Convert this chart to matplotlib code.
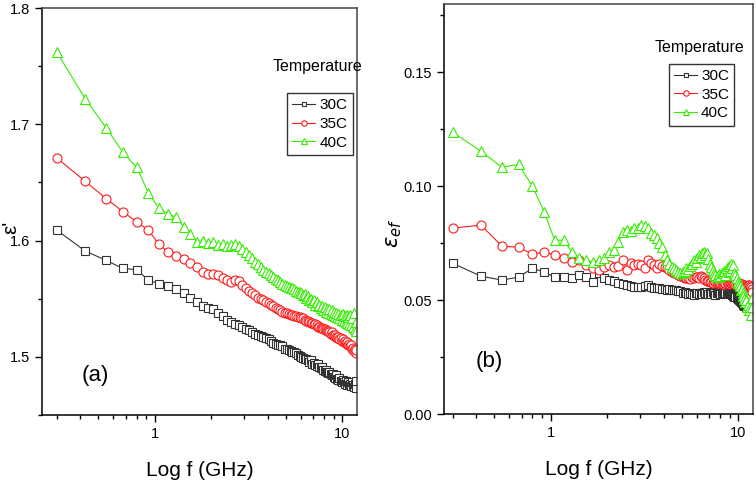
import matplotlib
matplotlib.use('Agg')
import matplotlib.pyplot as plt
from matplotlib.ticker import MultipleLocator, FixedLocator, FixedFormatter, NullFormatter

plt.rcParams['font.family'] = ['Liberation Sans Narrow', 'Liberation Sans', 'DejaVu Sans']

# frequency grid (GHz), 0.125 GHz steps
freq = [0.3, 0.425, 0.55, 0.675, 0.8, 0.925, 1.05, 1.175, 1.3, 1.425,
        1.55, 1.675, 1.8, 1.925, 2.05, 2.175, 2.3, 2.425, 2.55, 2.675,
        2.8, 2.925, 3.05, 3.175, 3.3, 3.425, 3.55, 3.675, 3.8, 3.925,
        4.05, 4.175, 4.3, 4.425, 4.55, 4.675, 4.8, 4.925, 5.05, 5.175,
        5.3, 5.425, 5.55, 5.675, 5.8, 5.925, 6.05, 6.175, 6.3, 6.425,
        6.55, 6.675, 6.8, 6.925, 7.05, 7.175, 7.3, 7.425, 7.55, 7.675,
        7.8, 7.925, 8.05, 8.175, 8.3, 8.425, 8.55, 8.675, 8.8, 8.925,
        9.05, 9.175, 9.3, 9.425, 9.55, 9.675, 9.8, 9.925, 10.05, 10.175,
        10.3, 10.425, 10.55, 10.675, 10.8, 10.925, 11.05, 11.175, 11.3, 11.425,
        11.55, 11.675, 11.8, 11.925]

# (a) real permittivity
eps1_30 = [1.609, 1.591, 1.583, 1.576, 1.575, 1.566, 1.563, 1.561, 1.558, 1.555,
           1.551, 1.547, 1.544, 1.542, 1.541, 1.538, 1.535, 1.532, 1.530, 1.528,
           1.527, 1.526, 1.524, 1.523, 1.521, 1.520, 1.519, 1.518, 1.517, 1.516,
           1.515, 1.514, 1.512, 1.511, 1.510, 1.510, 1.509, 1.507, 1.507, 1.506,
           1.505, 1.504, 1.504, 1.503, 1.502, 1.501, 1.500, 1.499, 1.498, 1.498,
           1.497, 1.496, 1.497, 1.494, 1.495, 1.493, 1.492, 1.494, 1.491, 1.490,
           1.491, 1.489, 1.488, 1.489, 1.487, 1.486, 1.487, 1.485, 1.484, 1.485,
           1.483, 1.482, 1.484, 1.481, 1.480, 1.482, 1.479, 1.478, 1.480, 1.478,
           1.477, 1.479, 1.477, 1.476, 1.478, 1.476, 1.477, 1.475, 1.478, 1.476,
           1.474, 1.477, 1.473, 1.479]
eps1_35 = [1.671, 1.651, 1.636, 1.625, 1.616, 1.609, 1.597, 1.590, 1.587, 1.584,
           1.581, 1.577, 1.573, 1.571, 1.571, 1.570, 1.568, 1.566, 1.564, 1.566,
           1.565, 1.562, 1.559, 1.557, 1.555, 1.553, 1.551, 1.550, 1.549, 1.547,
           1.546, 1.545, 1.544, 1.542, 1.541, 1.540, 1.539, 1.538, 1.538, 1.537,
           1.536, 1.536, 1.535, 1.535, 1.534, 1.534, 1.533, 1.533, 1.532, 1.531,
           1.531, 1.530, 1.529, 1.529, 1.528, 1.528, 1.527, 1.526, 1.526, 1.525,
           1.525, 1.524, 1.524, 1.523, 1.522, 1.522, 1.521, 1.520, 1.521, 1.519,
           1.518, 1.519, 1.517, 1.516, 1.517, 1.515, 1.516, 1.514, 1.515, 1.513,
           1.514, 1.512, 1.511, 1.513, 1.510, 1.511, 1.509, 1.510, 1.507, 1.508,
           1.505, 1.507, 1.503, 1.506]
eps1_40 = [1.762, 1.722, 1.697, 1.676, 1.663, 1.641, 1.628, 1.623, 1.620, 1.612,
           1.606, 1.599, 1.600, 1.598, 1.599, 1.596, 1.597, 1.595, 1.596, 1.597,
           1.595, 1.593, 1.590, 1.588, 1.585, 1.582, 1.580, 1.577, 1.575, 1.573,
           1.572, 1.570, 1.569, 1.567, 1.566, 1.564, 1.563, 1.562, 1.561, 1.560,
           1.559, 1.559, 1.558, 1.557, 1.556, 1.556, 1.555, 1.553, 1.554, 1.551,
           1.552, 1.549, 1.550, 1.547, 1.549, 1.545, 1.547, 1.544, 1.545, 1.542,
           1.544, 1.540, 1.543, 1.539, 1.541, 1.538, 1.541, 1.537, 1.540, 1.536,
           1.539, 1.535, 1.538, 1.534, 1.537, 1.533, 1.536, 1.532, 1.537, 1.531,
           1.535, 1.530, 1.536, 1.529, 1.534, 1.528, 1.536, 1.527, 1.533, 1.526,
           1.538, 1.524, 1.530, 1.522]

# (b) effective loss
epsef_30 = [0.0662, 0.0605, 0.0588, 0.0601, 0.0640, 0.0623, 0.0601, 0.0601, 0.0596, 0.0610,
            0.0601, 0.0579, 0.0618, 0.0596, 0.0590, 0.0583, 0.0575, 0.0570, 0.0566, 0.0560,
            0.0557, 0.0557, 0.0557, 0.0562, 0.0566, 0.0557, 0.0553, 0.0555, 0.0553, 0.0550,
            0.0548, 0.0545, 0.0547, 0.0543, 0.0546, 0.0544, 0.0541, 0.0538, 0.0532, 0.0536,
            0.0530, 0.0527, 0.0533, 0.0529, 0.0524, 0.0531, 0.0530, 0.0526, 0.0533, 0.0528,
            0.0535, 0.0531, 0.0535, 0.0527, 0.0532, 0.0529, 0.0534, 0.0530, 0.0524, 0.0531,
            0.0530, 0.0533, 0.0528, 0.0532, 0.0535, 0.0530, 0.0531, 0.0534, 0.0529, 0.0533,
            0.0530, 0.0527, 0.0524, 0.0520, 0.0515, 0.0513, 0.0510, 0.0506, 0.0500, 0.0495,
            0.0490, 0.0487, 0.0482, 0.0478, 0.0475, 0.0472, 0.0469, 0.0471, 0.0475, 0.0480,
            0.0478, 0.0482, 0.0476, 0.0479]
epsef_35 = [0.0816, 0.0829, 0.0737, 0.0732, 0.0702, 0.0711, 0.0697, 0.0684, 0.0667, 0.0675,
            0.0654, 0.0640, 0.0632, 0.0645, 0.0654, 0.0645, 0.0650, 0.0675, 0.0632, 0.0662,
            0.0654, 0.0660, 0.0654, 0.0640, 0.0675, 0.0662, 0.0654, 0.0640, 0.0660, 0.0650,
            0.0645, 0.0640, 0.0632, 0.0625, 0.0620, 0.0618, 0.0612, 0.0605, 0.0600, 0.0596,
            0.0596, 0.0598, 0.0594, 0.0600, 0.0596, 0.0602, 0.0601, 0.0598, 0.0604, 0.0600,
            0.0596, 0.0590, 0.0586, 0.0582, 0.0579, 0.0580, 0.0577, 0.0582, 0.0578, 0.0575,
            0.0579, 0.0574, 0.0577, 0.0575, 0.0572, 0.0576, 0.0573, 0.0578, 0.0575, 0.0572,
            0.0576, 0.0574, 0.0578, 0.0575, 0.0571, 0.0576, 0.0573, 0.0569, 0.0574, 0.0570,
            0.0566, 0.0571, 0.0567, 0.0563, 0.0568, 0.0562, 0.0557, 0.0560, 0.0565, 0.0568,
            0.0563, 0.0558, 0.0550, 0.0535]
epsef_40 = [0.1237, 0.1154, 0.1083, 0.1096, 0.1000, 0.0886, 0.0763, 0.0763, 0.0711, 0.0684,
            0.0675, 0.0667, 0.0675, 0.0684, 0.0711, 0.0719, 0.0754, 0.0798, 0.0807, 0.0805,
            0.0816, 0.0816, 0.0829, 0.0825, 0.0818, 0.0794, 0.0785, 0.0772, 0.0750, 0.0732,
            0.0700, 0.0675, 0.0660, 0.0645, 0.0640, 0.0632, 0.0625, 0.0618, 0.0622, 0.0630,
            0.0640, 0.0635, 0.0650, 0.0660, 0.0675, 0.0668, 0.0685, 0.0697, 0.0690, 0.0705,
            0.0710, 0.0698, 0.0706, 0.0680, 0.0660, 0.0645, 0.0632, 0.0620, 0.0610, 0.0601,
            0.0605, 0.0615, 0.0608, 0.0620, 0.0618, 0.0630, 0.0612, 0.0640, 0.0625, 0.0650,
            0.0630, 0.0660, 0.0640, 0.0654, 0.0620, 0.0610, 0.0596, 0.0580, 0.0570, 0.0560,
            0.0545, 0.0550, 0.0530, 0.0520, 0.0505, 0.0490, 0.0500, 0.0470, 0.0480, 0.0456,
            0.0470, 0.0435, 0.0510, 0.0470]

labels = ['30C', '35C', '40C']
colors = ['#333333', '#ff1a1a', '#33ee00']
markers = ['s', 'o', '^']
msizes = [5.5, 6.5, 7.5]


def style_axes(ax, xmin):
    ax.set_xscale('log')
    ax.set_xlim(xmin, 12)
    ax.xaxis.set_major_locator(FixedLocator([1, 10]))
    ax.xaxis.set_major_formatter(FixedFormatter(['1', '10']))
    ax.xaxis.set_minor_locator(FixedLocator([0.3, 0.4, 0.5, 0.6, 0.7, 0.8, 0.9,
                                             2, 3, 4, 5, 6, 7, 8, 9]))
    ax.xaxis.set_minor_formatter(NullFormatter())
    ax.tick_params(which='major', direction='out', length=5, width=1,
                   labelsize=10.5, top=False, right=False)
    ax.tick_params(which='minor', direction='out', length=3, width=1,
                   top=False, right=False)
    for s in ax.spines.values():
        s.set_linewidth(1.1)
    ax.spines['top'].set_color('#444444')
    ax.spines['right'].set_color('#444444')
    ax.set_xlabel('Log f (GHz)', fontsize=15)


def draw(ax, series):
    for y, lab, c, m, ms in zip(series, labels, colors, markers, msizes):
        ax.plot(freq, y, color=c, marker=m, markersize=ms, markerfacecolor='white',
                markeredgecolor=c, markeredgewidth=0.8, linewidth=0.8, label=lab)


def add_legend(ax, anchor):
    ax.legend(loc='upper left', bbox_to_anchor=anchor, borderaxespad=0,
              frameon=True, fancybox=False, edgecolor='#333333', framealpha=1,
              fontsize=11, markerscale=0.6, handlelength=1.5, handletextpad=0.25,
              labelspacing=0.3, borderpad=0.35)


fig = plt.figure(figsize=(7.56, 4.87), dpi=100)
W, H = 756, 487
ax1 = fig.add_axes([42 / W, 1 - 415 / H, 315 / W, 407 / H])
ax2 = fig.add_axes([444 / W, 1 - 414 / H, 309 / W, 410 / H])

# (a)
draw(ax1, [eps1_30, eps1_35, eps1_40])
style_axes(ax1, 0.25)
ax1.set_ylim(1.45, 1.8)
ax1.yaxis.set_major_locator(FixedLocator([1.5, 1.6, 1.7, 1.8]))
ax1.yaxis.set_major_formatter(FixedFormatter(['1.5', '1.6', '1.7', '1.8']))
ax1.yaxis.set_minor_locator(MultipleLocator(0.05))
ax1.set_ylabel("ε'", fontsize=15)
ax1.yaxis.set_label_coords(-0.07, 0.46)
ax1.xaxis.set_label_coords(0.5, -0.112)
ax1.text(0.168, 0.098, '(a)', transform=ax1.transAxes, fontsize=16,
         ha='center', va='center')
ax1.text(0.876, 0.857, 'Temperature', transform=ax1.transAxes, fontsize=11.5,
         ha='center', va='center')
add_legend(ax1, (0.778, 0.791))

# (b)
draw(ax2, [epsef_30, epsef_35, epsef_40])
style_axes(ax2, 0.27)
ax2.set_ylim(0, 0.18)
ax2.yaxis.set_major_locator(FixedLocator([0.0, 0.05, 0.10, 0.15]))
ax2.yaxis.set_major_formatter(FixedFormatter(['0.00', '0.05', '0.10', '0.15']))
ax2.yaxis.set_minor_locator(MultipleLocator(0.025))
ax2.set_ylabel(r'$\varepsilon_{ef}$', fontsize=15)
ax2.yaxis.set_label_coords(-0.13, 0.44)
ax2.xaxis.set_label_coords(0.5, -0.112)
ax2.text(0.146, 0.127, '(b)', transform=ax2.transAxes, fontsize=16,
         ha='center', va='center')
ax2.text(0.828, 0.895, 'Temperature', transform=ax2.transAxes, fontsize=11.5,
         ha='center', va='center')
add_legend(ax2, (0.728, 0.854))

fig.savefig('out.png', dpi=100)
